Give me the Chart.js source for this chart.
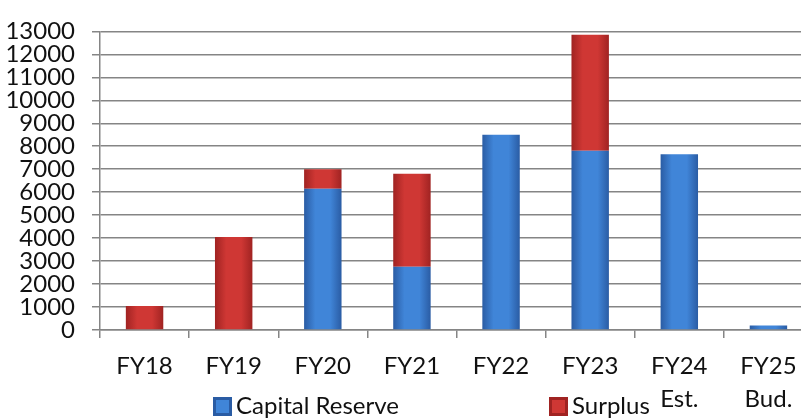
<!DOCTYPE html>
<html>
<head>
<meta charset="utf-8">
<script src="https://cdn.jsdelivr.net/npm/chart.js@4"></script>
<style>
  html, body { margin: 0; padding: 0; overflow: hidden; background: #fff; }
</style>
</head>
<body>
<canvas id="chart" width="813" height="419"></canvas>
<script>
const categories = [["FY18"], ["FY19"], ["FY20"], ["FY21"], ["FY22"], ["FY23"], ["FY24", "Est."], ["FY25", "Bud."]];
const seriesNames = ["Capital Reserve", "Surplus"];
const capitalReserve = [0, 0, 6150, 2750, 8500, 7800, 7650, 200];
const surplus = [1050, 4050, 850, 4050, 0, 5050, 0, 0];
const yMax = 13000;
const yStep = 1000;

const FONT = "Lato";
const FONT_SIZE = 24;
const BAR_PCT = 0.42;
const blueStops = ["#2a5ca4", "#4085d8", "#4085d8", "#2a5ca4"];
const redStops = ["#a02322", "#cf3734", "#cf3734", "#a02322"];

// horizontal bevel look, like the office 3d bars
function barFill(stops) {
  return function (c) {
    const chart = c.chart;
    const xs = chart.scales.x;
    if (c.type !== "data" || !xs || !xs.width) return stops[1];
    const cx = xs.getPixelForValue(c.dataIndex);
    const w = (xs.width / categories.length) * BAR_PCT;
    const g = chart.ctx.createLinearGradient(cx - w / 2, 0, cx + w / 2, 0);
    g.addColorStop(0, stops[0]);
    g.addColorStop(0.3, stops[1]);
    g.addColorStop(0.7, stops[2]);
    g.addColorStop(1, stops[3]);
    return g;
  };
}

// the legend sits on the same row as the second line of the x labels,
// with the two items far apart, so it is drawn here instead
const legendRow = {
  id: "legendRow",
  afterDraw(chart) {
    const c = chart.ctx;
    const boxX = [213, 549];
    const y = 406;
    c.save();
    c.font = FONT_SIZE + "px " + FONT;
    c.textBaseline = "middle";
    c.textAlign = "left";
    chart.data.datasets.forEach((ds, i) => {
      const stops = i === 0 ? blueStops : redStops;
      c.fillStyle = stops[0];
      c.fillRect(boxX[i], y - 9, 19, 19);
      c.fillStyle = stops[1];
      c.fillRect(boxX[i] + 3, y - 6, 13, 13);
      c.fillStyle = "#111";
      c.fillText(ds.label, boxX[i] + 23, y);
    });
    c.restore();
  },
};

const ctx = document.getElementById("chart");

const myChart = new Chart(ctx, {
  type: "bar",
  data: {
    labels: categories,
    datasets: [
      {
        label: seriesNames[0],
        data: capitalReserve,
        backgroundColor: barFill(blueStops),
        borderWidth: 0,
        barPercentage: BAR_PCT,
        categoryPercentage: 1,
      },
      {
        label: seriesNames[1],
        data: surplus,
        backgroundColor: barFill(redStops),
        borderWidth: 0,
        barPercentage: BAR_PCT,
        categoryPercentage: 1,
      },
    ],
  },
  options: {
    responsive: false,
    animation: false,
    layout: {
      autoPadding: false,
      padding: { top: 22, left: 0, right: 0, bottom: 0 },
    },
    plugins: {
      tooltip: { enabled: false },
      legend: { display: false },
    },
    scales: {
      x: {
        stacked: true,
        grid: {
          display: true,
          drawOnChartArea: false,
          tickLength: 8,
          color: "#858585",
          lineWidth: 1.5,
        },
        border: { display: true, color: "#858585", width: 1.5 },
        ticks: {
          color: "#111",
          padding: 12,
          font: { family: FONT, size: FONT_SIZE, lineHeight: 1.375 },
        },
        afterFit: (scale) => {
          scale.height = 89;
        },
      },
      y: {
        stacked: true,
        min: 0,
        max: yMax,
        grid: {
          color: "#858585",
          lineWidth: 1.5,
          tickLength: 8,
        },
        border: { display: true, color: "#858585", width: 1.5 },
        ticks: {
          stepSize: yStep,
          autoSkip: false,
          color: "#111",
          padding: 17,
          font: { family: FONT, size: FONT_SIZE },
          callback: (v) => String(v),
        },
        afterFit: (scale) => {
          scale.width = 100;
        },
      },
    },
  },
  plugins: [legendRow],
});
</script>
</body>
</html>
